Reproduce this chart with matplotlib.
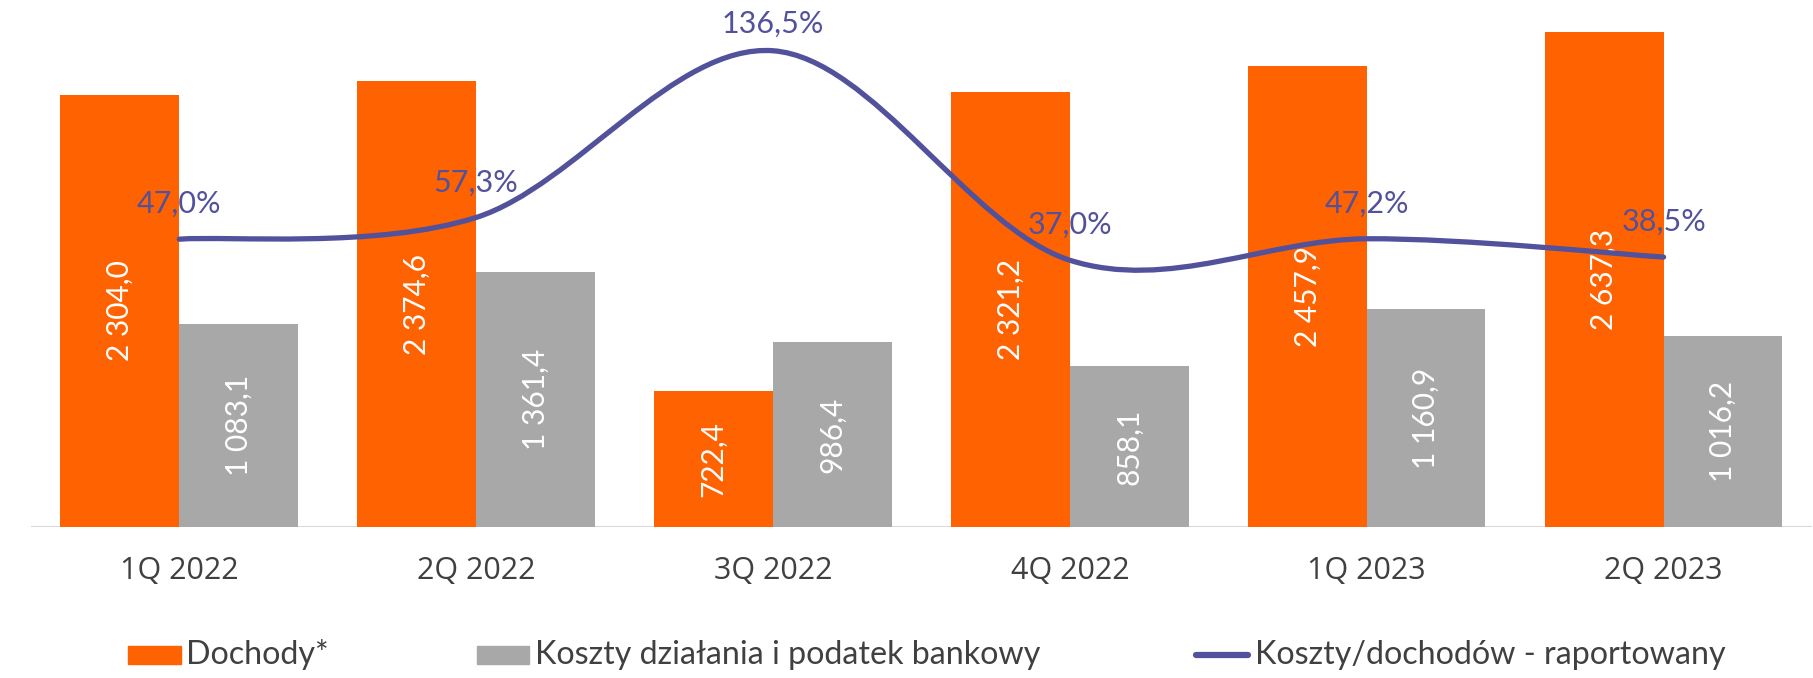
import numpy as np
import matplotlib.pyplot as plt
from matplotlib.path import Path
from matplotlib.patches import PathPatch, Rectangle
from matplotlib.lines import Line2D

# quarterly figures
quarters = ['1Q 2022', '2Q 2022', '3Q 2022', '4Q 2022', '1Q 2023', '2Q 2023']
dochody = [2304.0, 2374.6, 722.4, 2321.2, 2457.9, 2637.3]
koszty = [1083.1, 1361.4, 986.4, 858.1, 1160.9, 1016.2]
cost_income = [47.0, 57.3, 136.5, 37.0, 47.2, 38.5]

legend_labels = ['Dochody*', 'Koszty działania i podatek bankowy',
                 'Koszty/dochodów - raportowany']

ORANGE = '#ff6200'
GREY = '#a8a8a8'
PURPLE = '#52519b'
TEXT = '#404040'
LABEL_FONT = ['Lato', 'DejaVu Sans']
TICK_FONT = ['Open Sans', 'DejaVu Sans']


def fmt_pl(v):
    # "2 304,0" style: space for thousands, comma for decimals
    return f'{v:,.1f}'.replace(',', ' ').replace('.', ',')


W, H = 1813, 678
fig = plt.figure(figsize=(W / 100, H / 100), dpi=100)
ax = fig.add_axes([30.8 / W, 1 - 527 / H, (1812 - 30.8) / W, 527 / H])

x = np.arange(len(quarters))
w = 0.40
b1 = ax.bar(x - w / 2, dochody, w, color=ORANGE, zorder=2)
b2 = ax.bar(x + w / 2, koszty, w, color=GREY, zorder=2)

for bars, vals in [(b1, dochody), (b2, koszty)]:
    ax.bar_label(bars, labels=[fmt_pl(v) for v in vals], label_type='center',
                 rotation=90, color='white', fontsize=21.5, family=LABEL_FONT)

ax.set_xlim(-0.5, len(quarters) - 0.5)
ax.set_ylim(0, 2809)
ax.axhline(0, color='#d9d9d9', lw=2.2, zorder=1)
for s in ax.spines.values():
    s.set_visible(False)
ax.set_yticks([])
ax.set_xticks(x)
ax.set_xticklabels(quarters, fontsize=22, color=TEXT, family=TICK_FONT)
ax.tick_params(axis='x', length=0, pad=21)

# cost/income ratio on its own scale
ax2 = ax.twinx()
ax2.set_ylim(-89.7, 160.6)
ax2.set_yticks([])
for s in ax2.spines.values():
    s.set_visible(False)

# smoothed line: cubic bezier segments through the points (catmull-rom style)
pts = np.column_stack([x, cost_income]).astype(float)
padded = np.vstack([pts[0], pts, pts[-1]])
verts = [tuple(pts[0])]
codes = [Path.MOVETO]
for i in range(len(pts) - 1):
    p0, p1, p2, p3 = padded[i], padded[i + 1], padded[i + 2], padded[i + 3]
    c1 = p1 + (p2 - p0) / 6
    c2 = p2 - (p3 - p1) / 6
    verts += [tuple(c1), tuple(c2), tuple(p2)]
    codes += [Path.CURVE4] * 3
ax2.add_patch(PathPatch(Path(verts, codes), fill=False, edgecolor=PURPLE,
                        lw=3.8, capstyle='round', joinstyle='round', zorder=3))

for xi, v in zip(x, cost_income):
    py = ax2.transData.transform((xi, v))[1]
    off = 26
    if py + off + 24 > H - 9:
        off = H - 9 - 24 - py
    ax2.annotate(f'{v:.1f}%'.replace('.', ','), (xi, v),
                 xytext=(0, off * 0.72), textcoords='offset points',
                 ha='center', va='baseline', color=PURPLE, fontsize=22,
                 family=LABEL_FONT, annotation_clip=False)

# legend drawn by hand along the bottom
cy = 1 - 655 / H
fig.patches.append(Rectangle((128 / W, 1 - 664 / H), 53 / W, 18 / H,
                             transform=fig.transFigure, color=ORANGE))
fig.patches.append(Rectangle((477 / W, 1 - 664 / H), 52 / W, 18 / H,
                             transform=fig.transFigure, color=GREY))
fig.lines.append(Line2D([1196 / W, 1248 / W], [cy, cy], transform=fig.transFigure,
                        color=PURPLE, lw=4.5, solid_capstyle='round'))
for tx, lab in zip([186, 535, 1255], legend_labels):
    fig.text(tx / W, 1 - 664 / H, lab, ha='left', va='baseline', fontsize=23.2,
             color=TEXT, family=LABEL_FONT)

fig.savefig('out.png', dpi=100)
